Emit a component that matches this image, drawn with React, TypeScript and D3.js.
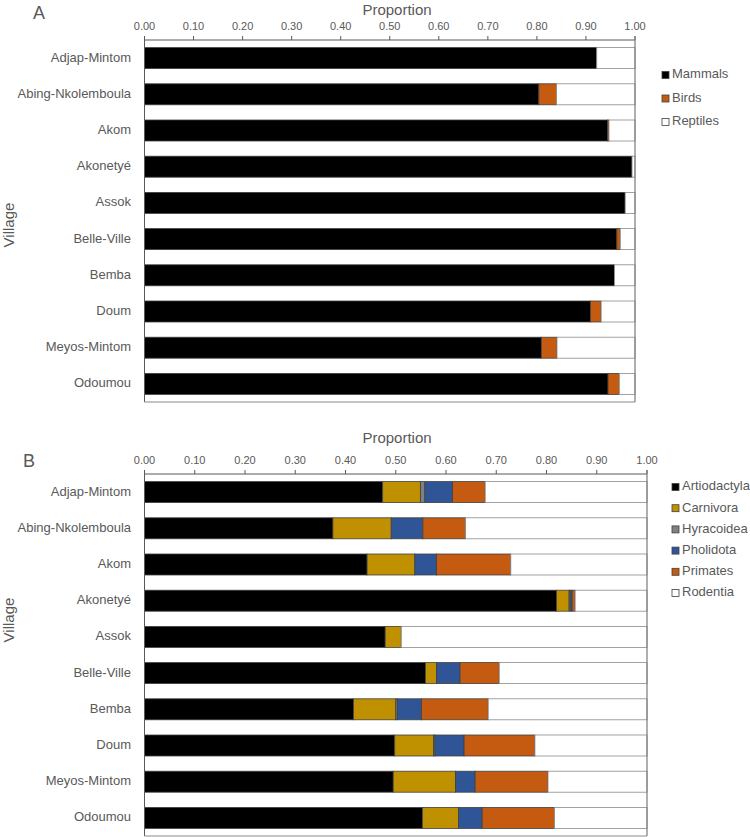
import React from "react";
import * as d3 from "d3";

const villages = ["Adjap-Mintom","Abing-Nkolemboula","Akom","Akonetyé","Assok","Belle-Ville","Bemba","Doum","Meyos-Mintom","Odoumou"];
const ticks = [0,0.1,0.2,0.3,0.4,0.5,0.6,0.7,0.8,0.9,1.0];

// Panel A
const classesA = ["Mammals","Birds","Reptiles"];
const mammals = [0.922,0.804,0.944,0.994,0.980,0.963,0.958,0.909,0.809,0.945];
const birds =   [0.000,0.036,0.003,0.000,0.000,0.007,0.000,0.022,0.032,0.023];
const colorsA = ["#000000","#C55A11","#FFFFFF"];

// Panel B
const ordersB = ["Artiodactyla","Carnivora","Hyracoidea","Pholidota","Primates","Rodentia"];
const artiodactyla = [0.474,0.375,0.443,0.820,0.479,0.559,0.416,0.498,0.495,0.553];
const carnivora =    [0.075,0.116,0.095,0.025,0.032,0.022,0.084,0.077,0.124,0.072];
const hyracoidea =   [0.009,0.000,0.000,0.002,0.000,0.000,0.003,0.003,0.000,0.000];
const pholidota =    [0.055,0.063,0.043,0.004,0.000,0.047,0.048,0.058,0.039,0.047];
const primates =     [0.065,0.085,0.148,0.006,0.000,0.078,0.133,0.141,0.145,0.144];
const colorsB = ["#000000","#BF9000","#808080","#2F5597","#C55A11","#FFFFFF"];

const FONT = "'Liberation Sans', Arial, sans-serif";
const TXT = "#595959";

type PanelProps = {
  keys: string[]; colors: string[]; rows: Record<string, number>[];
  x0: number; x1: number; top: number; bottom: number;
  letter: string; letterX: number; letterY: number;
  titleY: number; villageY: number;
  legendX: number; legendY: number; legendStep: number;
};

function Panel(p: PanelProps) {
  const x = d3.scaleLinear().domain([0, 1]).range([p.x0, p.x1]);
  const y = d3.scaleBand<string>().domain(villages).range([p.top, p.bottom]).paddingInner(0.42).paddingOuter(0.21);
  const series = d3.stack<Record<string, number>>().keys(p.keys)(p.rows);
  return (
    <g fontFamily={FONT} fill={TXT}>
      <text x={p.letterX} y={p.letterY} fontSize={18} dominantBaseline="middle">{p.letter}</text>
      <text x={397} y={p.titleY} fontSize={15} textAnchor="middle">Proportion</text>
      <text transform={`translate(14,${p.villageY}) rotate(-90)`} fontSize={15} textAnchor="middle">Village</text>
      {ticks.map(t => (
        <g key={t}>
          <line x1={x(t)} x2={x(t)} y1={p.top - 4} y2={p.top} stroke="#595959" strokeWidth={1} />
          <text x={x(t)} y={p.top - 13} fontSize={11} textAnchor="middle" dominantBaseline="middle">{t.toFixed(2)}</text>
        </g>
      ))}
      {series.map((s, si) => s.map((d, i) => {
        const w = x(d[1]) - x(d[0]);
        if (w <= 0.01) return null;
        return (
          <rect key={`${si}-${i}`} x={x(d[0])} y={y(villages[i])!} width={w} height={y.bandwidth()}
            fill={p.colors[si]} stroke={p.colors[si] === "#FFFFFF" ? "#8a8a8a" : "#404040"} strokeWidth={0.8} />
        );
      }))}
      {villages.map(v => (
        <text key={v} x={131} y={y(v)! + y.bandwidth() / 2} fontSize={13} textAnchor="end" dominantBaseline="middle">{v}</text>
      ))}
      <line x1={x(0)} x2={x(1)} y1={p.top} y2={p.top} stroke="#595959" strokeWidth={1} />
      <line x1={x(0)} x2={x(0)} y1={p.top - 4} y2={p.bottom} stroke="#595959" strokeWidth={1} />
      <line x1={x(1)} x2={x(1)} y1={p.top - 4} y2={p.bottom} stroke="#7a7a7a" strokeWidth={1.2} />
      <line x1={x(0)} x2={x(1)} y1={p.bottom} y2={p.bottom} stroke="#8a8a8a" strokeWidth={1} />
      {p.keys.map((k, i) => (
        <g key={k} transform={`translate(${p.legendX},${p.legendY + i * p.legendStep})`}>
          <rect x={0} y={-3.5} width={7} height={7} fill={p.colors[i]} stroke="#404040" strokeWidth={0.8} />
          <text x={10} y={0} fontSize={13} dominantBaseline="middle">{k}</text>
        </g>
      ))}
    </g>
  );
}

export default function App() {
  const rowsA = villages.map((v, i) => ({ Mammals: mammals[i], Birds: birds[i], Reptiles: 1 - mammals[i] - birds[i] }));
  const rowsB = villages.map((v, i) => ({
    Artiodactyla: artiodactyla[i], Carnivora: carnivora[i], Hyracoidea: hyracoidea[i],
    Pholidota: pholidota[i], Primates: primates[i],
    Rodentia: 1 - artiodactyla[i] - carnivora[i] - hyracoidea[i] - pholidota[i] - primates[i],
  }));
  return (
    <svg width={750} height={837} style={{ position: "absolute", left: 0, top: 0, display: "block", background: "#fff" }}>
      <Panel keys={classesA} colors={colorsA} rows={rowsA} x0={144.5} x1={635} top={40} bottom={402}
        letter="A" letterX={33} letterY={14} titleY={15} villageY={225}
        legendX={662} legendY={75} legendStep={23.5} />
      <Panel keys={ordersB} colors={colorsB} rows={rowsB} x0={144.5} x1={647} top={474} bottom={836}
        letter="B" letterX={23} letterY={462} titleY={443} villageY={620}
        legendX={672} legendY={487} legendStep={21.2} />
    </svg>
  );
}
